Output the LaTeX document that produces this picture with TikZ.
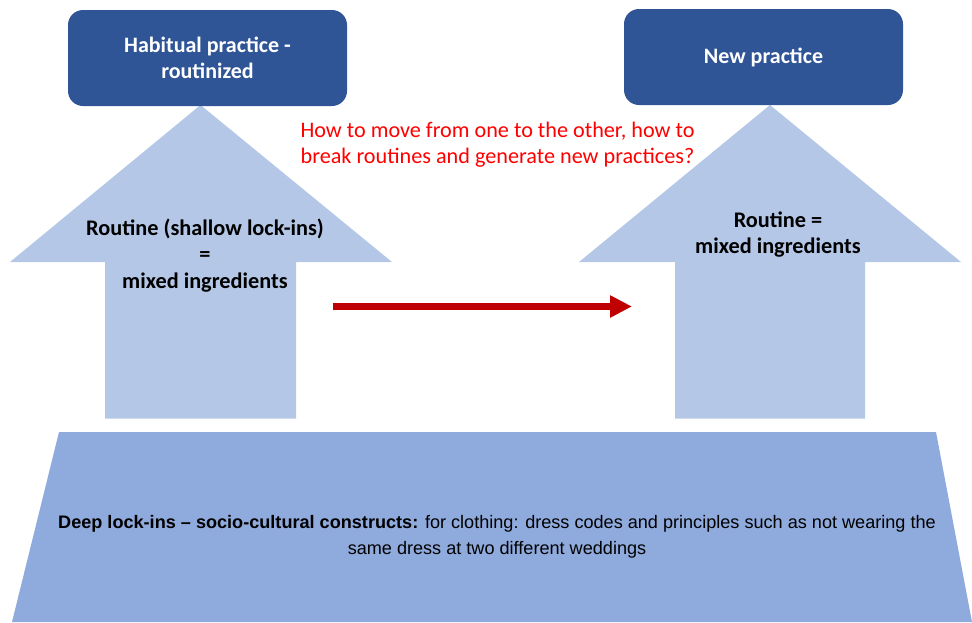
\documentclass[tikz,border=0pt]{standalone}
\usepackage{fontspec}
\setmainfont{Carlito}
\newfontfamily\deepfont{Liberation Sans}
\usetikzlibrary{arrows.meta}
\definecolor{boxblue}{HTML}{2F5597}
\definecolor{arrowblue}{HTML}{B4C7E7}
\definecolor{baseblue}{HTML}{8FAADC}
\definecolor{darkred}{HTML}{C00000}

\begin{document}
\begin{tikzpicture}[x=1pt, y=-1pt,
    practice/.style={rounded corners=15pt, fill=boxblue, text=white, minimum width=279pt, minimum height=96pt,
        align=center, font=\bfseries\fontsize{22}{26}\selectfont},
    uparrow/.style={fill=arrowblue},
    routine/.style={align=center, font=\bfseries\fontsize{22.3}{26.5}\selectfont},
    question/.style={align=center, text=red, font=\fontsize{22.2}{26}\selectfont},
    deep/.style={align=center, font=\deepfont\fontsize{18.1}{26}\selectfont}]
    \useasboundingbox (0,0) rectangle (972,622);

    % bottom layer
    \fill[baseblue] (59,432) -- (936,432) -- (972,622) -- (12,622) -- cycle;
    \node[deep] (constructs) at (497,536.5) {\textbf{Deep lock-ins – socio-cultural constructs:} for clothing: dress codes and principles such as not wearing the\\same dress at two different weddings};

    % the two up arrows
    \fill[uparrow] (200.5,105) -- (392,262) -- (296,262) -- (296,418.7) -- (105,418.7) -- (105,262) -- (10,262) -- cycle;
    \fill[uparrow] (770,105) -- (961,262) -- (865,262) -- (865,418.7) -- (675,418.7) -- (675,262) -- (579,262) -- cycle;
    \node[routine] (oldroutine) at (205,255.5) {Routine (shallow lock-ins)\\=\\mixed ingredients};
    \node[routine] (newroutine) at (778,234.5) {Routine =\\mixed ingredients};

    % practices
    \node[practice] (habit) at (207.5,58) {Habitual practice -\\routinized};
    \node[practice] (newpractice) at (763.5,57) {New practice};

    \node[question] (question) at (497.5,145) {How to move from one to the other, how to\\break routines and generate new practices?};

    \coordinate (movefrom) at (333,306.5);
    \coordinate (moveto) at (632,306.5);
    \draw[darkred, line width=7pt, -{Triangle[length=22pt, width=21pt]}] (movefrom) -- (moveto);
\end{tikzpicture}
\end{document}
